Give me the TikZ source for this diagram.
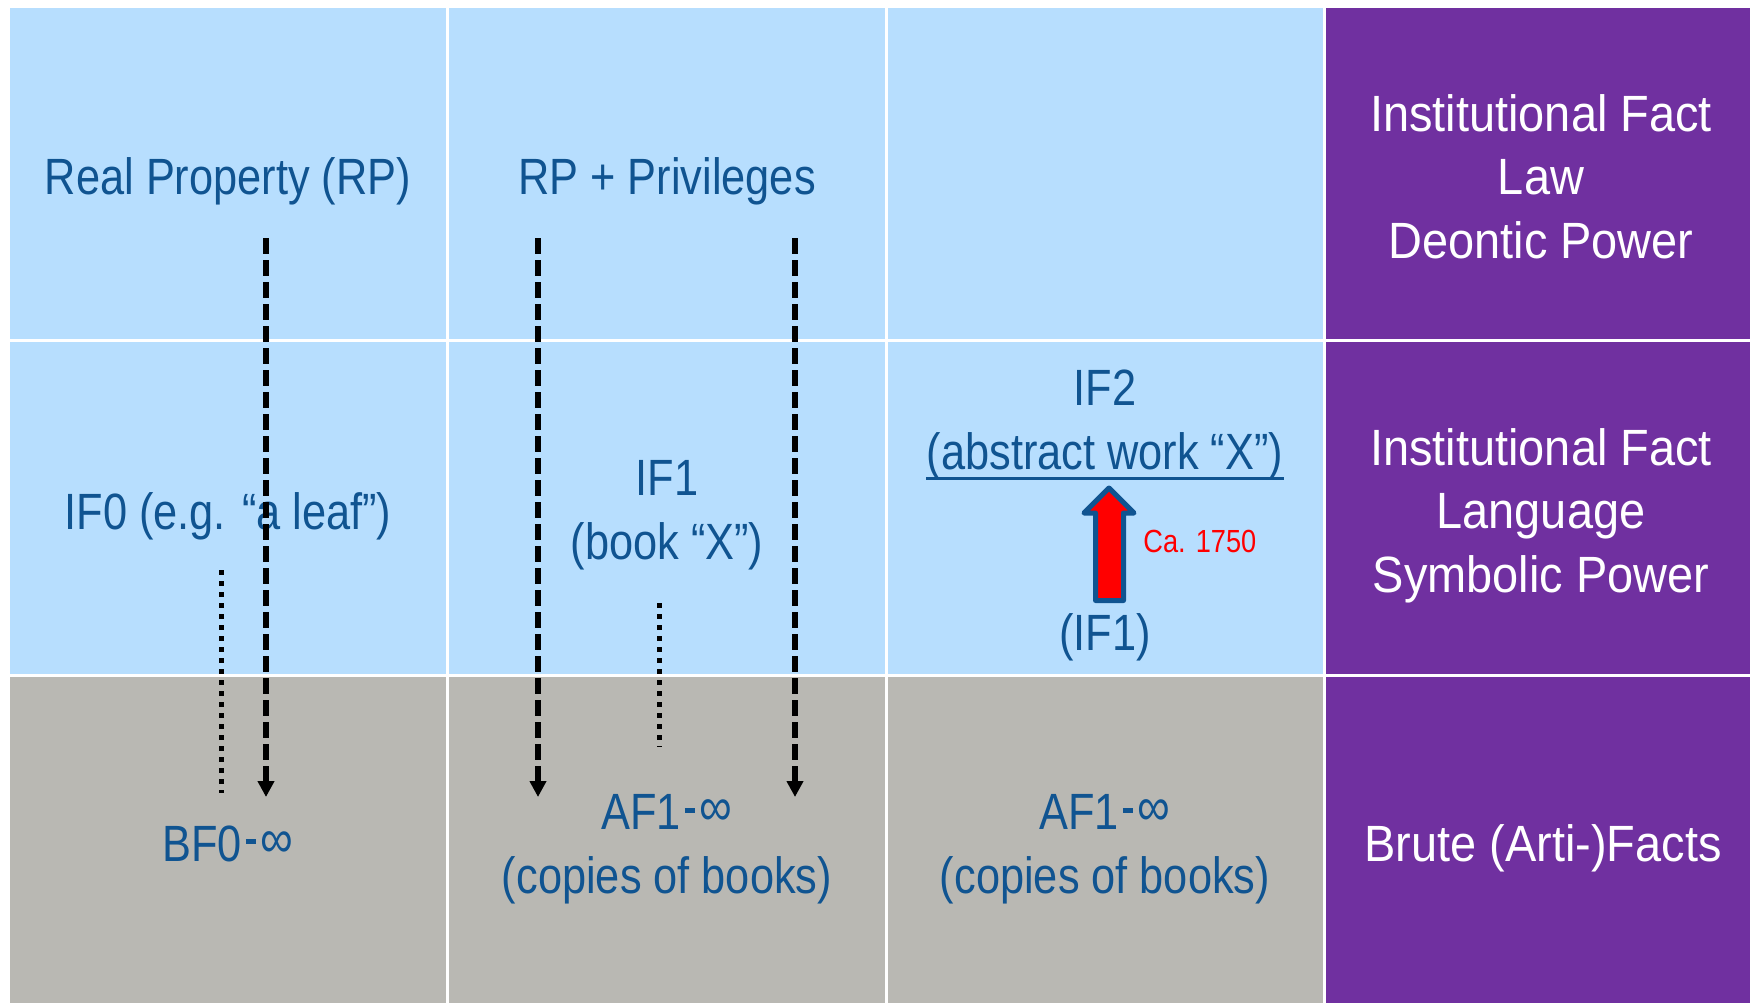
\documentclass[tikz,border=0pt]{standalone}
\usepackage{fontspec}
\setmainfont{Liberation Sans}[FakeStretch=0.85]
\newfontfamily\widefont{Liberation Sans}[FakeStretch=0.92]
\usetikzlibrary{arrows.meta}
\definecolor{cellblue}{RGB}{183,222,254}
\definecolor{cellpurple}{RGB}{112,48,160}
\definecolor{cellgray}{RGB}{185,184,179}
\definecolor{textblue}{RGB}{16,84,145}
\newcommand{\infdash}{\hspace{2pt}\rule[8.5pt]{5pt}{2.5pt}\hspace{2.5pt}\raisebox{2pt}{\fontsize{27}{27}\selectfont ∞}}
\tikzset{
  bluetext/.style={text=textblue, inner sep=0pt, align=center, font=\fontsize{25.5}{31.8}\selectfont},
  whitetext/.style={text=white, inner sep=0pt, align=center, font=\widefont\fontsize{25.5}{31.8}\selectfont},
  redtext/.style={text=red, inner sep=0pt, font=\fontsize{16}{19}\selectfont},
  dasharrow/.style={draw=black, line width=3pt, dash pattern=on 8pt off 3pt, -{Triangle[width=8pt,length=8pt]}},
  dotline/.style={draw=black, line width=2.5pt, dash pattern=on 2.5pt off 3pt},
  bigarrow/.style={draw=textblue, fill=red, line width=2.5pt, line join=round}
}
\begin{document}
\begin{tikzpicture}[x=0.5pt,y=-0.5pt]
\useasboundingbox (0,0) rectangle (1750,1003);
\fill[white] (0,0) rectangle (1750,1003);
% row 1
\fill[cellblue] (10,8) rectangle (446,339);
\fill[cellblue] (449,8) rectangle (885,339);
\fill[cellblue] (888,8) rectangle (1323,339);
\fill[cellpurple] (1326,8) rectangle (1750,339);
% row 2
\fill[cellblue] (10,342) rectangle (446,674);
\fill[cellblue] (449,342) rectangle (885,674);
\fill[cellblue] (888,342) rectangle (1323,674);
\fill[cellpurple] (1326,342) rectangle (1750,674);
% row 3
\fill[cellgray] (10,677) rectangle (446,1003);
\fill[cellgray] (449,677) rectangle (885,1003);
\fill[cellgray] (888,677) rectangle (1323,1003);
\fill[cellpurple] (1326,677) rectangle (1750,1003);

% texts
\node[bluetext, anchor=base] (rp) at (228,194) {Real Property (RP)};
\node[bluetext, anchor=base] (rpp) at (667,194) {RP + Privileges};
\node[whitetext] (law) at (1541,182) {\strut Institutional Fact\\\strut Law\\\strut Deontic Power};

\node[bluetext, anchor=base] (if0) at (228,529) {IF0 (e.g. “a leaf”)};
\node[bluetext] (if1) at (667,515) {\strut IF1\\\strut (book “X”)};
\node[bluetext] (if2) at (1105,425) {\strut IF2\\\strut (abstract work “X”)};
\node[bluetext, anchor=base] (if1b) at (1105,650) {(IF1)};
\node[whitetext] (lang) at (1541,516) {\strut Institutional Fact\\\strut Language\\\strut Symbolic Power};

\node[bluetext, anchor=base] (bf0) at (228,861) {BF0\infdash};
\node[bluetext] (af1) at (667,849) {\strut AF1\infdash\\\strut (copies of books)};
\node[bluetext] (af1b) at (1105,849) {\strut AF1\infdash\\\strut (copies of books)};
\node[whitetext, anchor=base] (brute) at (1543,861) {Brute (Arti-)Facts};

\node[redtext, anchor=base west] (ca) at (1143,552) {Ca. 1750};

% underline of abstract work
\coordinate (ul) at (0,478);
\draw[textblue, line width=1.5pt] (if2.west |- ul) -- (if2.east |- ul);

% red arrow
\draw[bigarrow] (1109,488) -- (1134,513) -- (1123.5,513) -- (1123.5,600.5) -- (1095.5,600.5) -- (1095.5,513) -- (1084,513) -- cycle;

% connectors
\coordinate (a1s) at (266,238); \coordinate (a1e) at (266,797);
\coordinate (a2s) at (538,238); \coordinate (a2e) at (538,797);
\coordinate (a3s) at (795,238); \coordinate (a3e) at (795,797);
\coordinate (d1s) at (221,570); \coordinate (d1e) at (221,793);
\coordinate (d2s) at (659,603); \coordinate (d2e) at (659,747);
\draw[dotline] (d1s) -- (d1e);
\draw[dotline] (d2s) -- (d2e);
\draw[dasharrow] (a1s) -- (a1e);
\draw[dasharrow] (a2s) -- (a2e);
\draw[dasharrow] (a3s) -- (a3e);
\end{tikzpicture}
\end{document}
